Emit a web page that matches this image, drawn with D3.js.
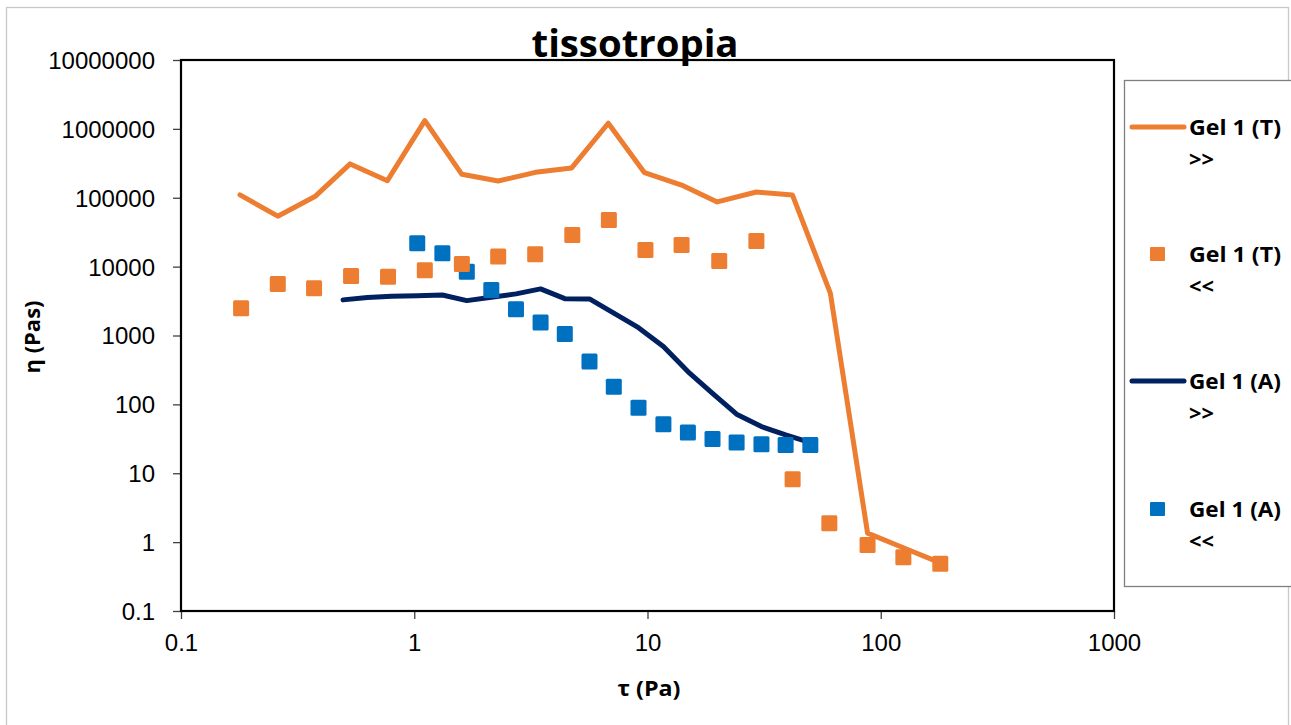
<!DOCTYPE html>
<html><head><meta charset="utf-8">
<script src="https://cdn.jsdelivr.net/npm/d3@7"></script>
<style>body{margin:0;background:#fff}svg{display:block}</style>
</head><body>
<svg id="c" width="1291" height="725"></svg>
<script>
// ---- data ----
const titleText = "tissotropia";
const xTicks = [0.1, 1, 10, 100, 1000];
const yTicks = [0.1, 1, 10, 100, 1000, 10000, 100000, 1000000, 10000000];
const xLabel = "τ (Pa)";
const yLabel = "η (Pas)";

const gelT_up_x = [0.179, 0.26, 0.375, 0.531, 0.767, 1.11, 1.60, 2.29, 3.31, 4.73, 6.79, 9.71, 14.0, 19.9, 29.3, 41.8, 60.8, 87.8, 125, 180];
const gelT_up_y = [110000, 54000, 104000, 310000, 177000, 1315000, 219000, 175000, 234000, 271000, 1206000, 231000, 153000, 87000, 121000, 110000, 4110, 1.35, 0.83, 0.50];

const gelT_down_x = [0.181, 0.26, 0.372, 0.536, 0.772, 1.11, 1.60, 2.29, 3.30, 4.76, 6.83, 9.80, 14.0, 20.3, 29.3, 41.9, 60.2, 87.8, 125, 180];
const gelT_down_y = [2490, 5610, 4860, 7330, 7100, 8870, 10950, 13970, 15100, 28800, 47600, 17500, 20600, 12100, 23600, 8.2, 1.88, 0.91, 0.605, 0.484];

const gelA_up_x = [0.495, 0.63, 0.80, 1.03, 1.32, 1.68, 2.14, 2.73, 3.48, 4.42, 5.64, 7.17, 9.15, 11.7, 14.9, 19.0, 24.1, 30.8, 39.1, 49.9];
const gelA_up_y = [3290, 3550, 3700, 3780, 3880, 3210, 3600, 4020, 4750, 3430, 3400, 2110, 1300, 690, 299, 145, 72, 47.6, 36, 27.9];

const gelA_down_x = [1.03, 1.32, 1.68, 2.14, 2.73, 3.48, 4.42, 5.64, 7.17, 9.15, 11.7, 14.9, 19.0, 24.1, 30.8, 39.1, 49.9];
const gelA_down_y = [21900, 15600, 8460, 4590, 2410, 1540, 1050, 418, 181, 89, 51.6, 39, 31.3, 27.9, 26.4, 25.8, 25.8];

const seriesNames = ["Gel 1 (T)", "Gel 1 (T)", "Gel 1 (A)", "Gel 1 (A)"];
const seriesSub = [">>", "<<", ">>", "<<"];
const seriesColors = ["#ED7D31", "#ED7D31", "#002060", "#0070C0"];
const seriesKinds = ["line", "square", "line", "square"];

// ---- chart ----
const svg = d3.select("#c");
const L = 181, T = 60, R = 1114, B = 611;
const x = d3.scaleLog().domain([0.1, 1000]).range([L, R]);
const y = d3.scaleLog().domain([0.1, 10000000]).range([B, T]);
const zip = (a, b) => a.map((v, i) => [v, b[i]]);

// outer border
svg.append("rect").attr("x", 6.5).attr("y", 7.5).attr("width", 1282).attr("height", 740)
  .attr("fill", "none").attr("stroke", "#c8c8c8").attr("stroke-width", 1.3);

// title
svg.append("text").attr("x", 635).attr("y", 57).attr("text-anchor", "middle")
  .attr("font-family", "Open Sans").attr("font-weight", "bold").attr("font-size", 37)
  .attr("textLength", 207).attr("lengthAdjust", "spacingAndGlyphs")
  .text(titleText);

// axes
const fmt = d => String(d);
const xAxis = svg.append("g").attr("transform", `translate(0,${B})`)
  .call(d3.axisBottom(x).tickValues(xTicks).tickFormat(fmt).tickSize(8).tickSizeOuter(0));
const yAxis = svg.append("g").attr("transform", `translate(${L},0)`)
  .call(d3.axisLeft(y).tickValues(yTicks).tickFormat(fmt).tickSize(8).tickSizeOuter(0));
[xAxis, yAxis].forEach(g => {
  g.select(".domain").remove();
  g.selectAll(".tick line").attr("stroke", "#404040").attr("stroke-width", 1.3);
  g.selectAll(".tick text").attr("font-family", "Liberation Sans").attr("font-size", 24).attr("fill", "#000");
});
yAxis.selectAll(".tick text").attr("x", -26).attr("dy", "0.35em");
xAxis.selectAll(".tick text").attr("y", 23).attr("dy", "0.71em");

// frame
svg.append("rect").attr("x", L).attr("y", T).attr("width", R - L).attr("height", B - T)
  .attr("fill", "none").attr("stroke", "#000").attr("stroke-width", 2.2);

// axis titles
svg.append("text").attr("x", 649).attr("y", 696).attr("text-anchor", "middle")
  .attr("font-family", "Open Sans").attr("font-weight", "bold").attr("font-size", 22)
  .attr("textLength", 63).attr("lengthAdjust", "spacingAndGlyphs")
  .text(xLabel);
svg.append("text").attr("transform", "translate(40,337) rotate(-90)").attr("text-anchor", "middle")
  .attr("font-family", "Open Sans").attr("font-weight", "bold").attr("font-size", 22)
  .attr("textLength", 73).attr("lengthAdjust", "spacingAndGlyphs")
  .text(yLabel);

// series
const line = d3.line().x(d => x(d[0])).y(d => y(d[1]));
const plot = svg.append("g");
plot.append("path").datum(zip(gelA_up_x, gelA_up_y)).attr("d", line)
  .attr("fill", "none").attr("stroke", seriesColors[2]).attr("stroke-width", 5)
  .attr("stroke-linejoin", "round").attr("stroke-linecap", "round");
plot.selectAll(".sqA").data(zip(gelA_down_x, gelA_down_y)).join("rect")
  .attr("x", d => x(d[0]) - 8).attr("y", d => y(d[1]) - 8).attr("width", 16).attr("height", 16)
  .attr("rx", 1.5).attr("fill", seriesColors[3]);
plot.append("path").datum(zip(gelT_up_x, gelT_up_y)).attr("d", line)
  .attr("fill", "none").attr("stroke", seriesColors[0]).attr("stroke-width", 5)
  .attr("stroke-linejoin", "round").attr("stroke-linecap", "round");
plot.selectAll(".sqT").data(zip(gelT_down_x, gelT_down_y)).join("rect")
  .attr("x", d => x(d[0]) - 8).attr("y", d => y(d[1]) - 8).attr("width", 16).attr("height", 16)
  .attr("rx", 1.5).attr("fill", seriesColors[1]);

// legend
svg.append("rect").attr("x", 1124.5).attr("y", 80.5).attr("width", 200).attr("height", 506)
  .attr("fill", "#fff").attr("stroke", "#7f7f7f").attr("stroke-width", 1.3);
const legY = [127, 254, 381, 509];
seriesNames.forEach((n, i) => {
  const g = svg.append("g");
  if (seriesKinds[i] === "line") {
    g.append("line").attr("x1", 1132).attr("x2", 1184).attr("y1", legY[i]).attr("y2", legY[i])
      .attr("stroke", seriesColors[i]).attr("stroke-width", 5).attr("stroke-linecap", "round");
  } else {
    g.append("rect").attr("x", 1150).attr("y", legY[i] - 7).attr("width", 15).attr("height", 14)
      .attr("rx", 1).attr("fill", seriesColors[i]);
  }
  g.append("text").attr("x", 1189).attr("y", legY[i] + 8)
    .attr("font-family", "Open Sans").attr("font-weight", "bold").attr("font-size", 22)
    .attr("textLength", 92).attr("lengthAdjust", "spacingAndGlyphs").text(n);
  g.append("text").attr("x", 1189).attr("y", legY[i] + 40)
    .attr("font-family", "Open Sans").attr("font-weight", "bold").attr("font-size", 22)
    .attr("textLength", 25).attr("lengthAdjust", "spacingAndGlyphs")
    .text(seriesSub[i]);
});
</script>
</body></html>
